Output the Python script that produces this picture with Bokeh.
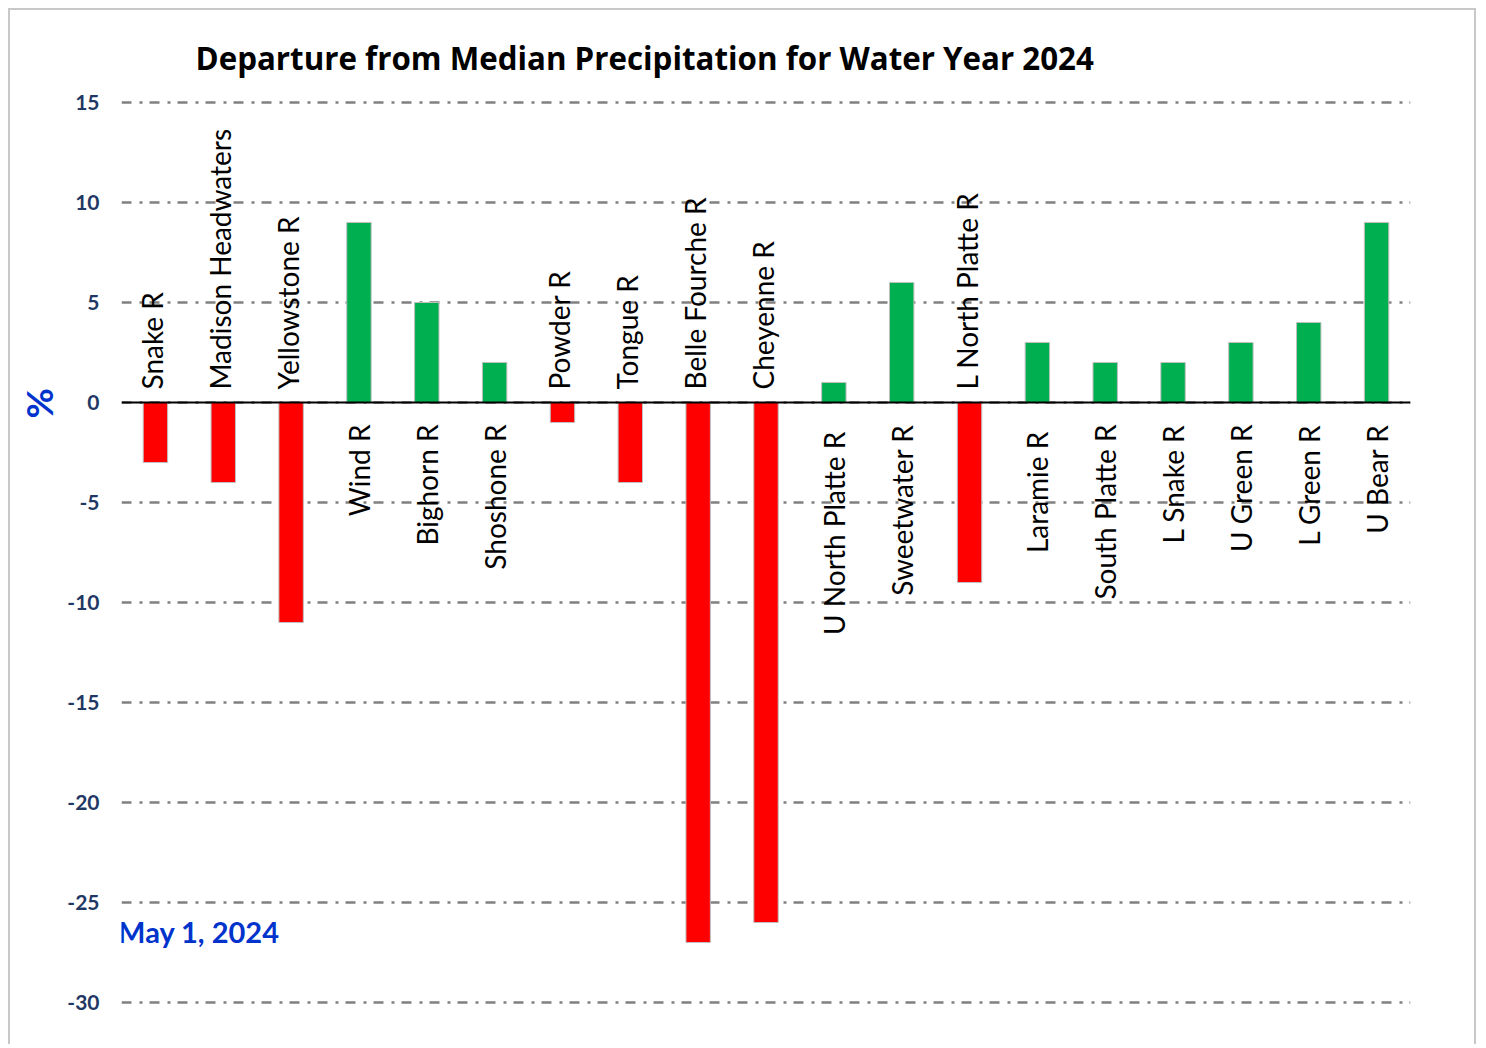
import math
from bokeh.plotting import figure
from bokeh.models import ColumnDataSource, FactorRange, Range1d, FixedTicker, Span, Label, Title
from bokeh.core.properties import value
from bokeh.embed import file_html
from bokeh.resources import INLINE

basins = ["Snake R", "Madison Headwaters", "Yellowstone R", "Wind R", "Bighorn R",
          "Shoshone R", "Powder R", "Tongue R", "Belle Fourche R", "Cheyenne R",
          "U North Platte  R", "Sweetwater R", "L North Platte  R", "Laramie  R",
          "South Platte R", "L Snake R", "U Green R", "L Green R", "U Bear R"]
departure = [-3, -4, -11, 9, 5, 2, -1, -4, -27, -26, 1, 6, -9, 3, 2, 2, 3, 4, 9]
y_ticks = [-30, -25, -20, -15, -10, -5, 0, 5, 10, 15]
y_tick_labels = {t: str(t) for t in y_ticks}
title_text = "Departure from Median Precipitation for Water Year 2024"
date_text = "May 1, 2024"
axis_text = "%"

RED = "#FF0000"
GREEN = "#00B050"
colors = [GREEN if v >= 0 else RED for v in departure]

src = ColumnDataSource(dict(basin=basins, dep=departure, color=colors))
neg = [b for b, v in zip(basins, departure) if v < 0]
pos = [b for b, v in zip(basins, departure) if v >= 0]
neg_src = ColumnDataSource(dict(basin=neg, zero=[0] * len(neg)))
pos_src = ColumnDataSource(dict(basin=pos, zero=[0] * len(pos)))

p = figure(width=1468, height=1036, output_backend="svg", toolbar_location=None,
           x_range=FactorRange(*basins, range_padding=0), y_range=Range1d(-30.25, 15.25),
           min_border_left=111, min_border_right=68, min_border_top=87, min_border_bottom=39)
p.styles = {"margin": "8px 0 0 8px", "border": "2px solid #C8C8C8", "border-bottom": "none"}

p.vbar(x="basin", top="dep", bottom=0, width=0.36, source=src,
       fill_color="color", line_color="#BFBFBF", line_width=1)

p.add_layout(Span(location=0, dimension="width", line_color="black", line_width=2))

lab_font = value("Lato")
p.text(x="basin", y="zero", text="basin", source=neg_src, angle=math.pi / 2,
       text_align="left", text_baseline="middle", y_offset=-13, x_offset=-3,
       text_font=lab_font, text_font_size="28px", text_color="black")
p.text(x="basin", y="zero", text="basin", source=pos_src, angle=math.pi / 2,
       text_align="right", text_baseline="middle", y_offset=22,
       text_font=lab_font, text_font_size="28px", text_color="black")

p.add_layout(Label(x=-0.05, y=-26.45, text=date_text, text_align="left",
                   text_baseline="alphabetic", text_font="Lato", text_font_style="bold",
                   text_font_size="29px", text_color="#0033CC"))

p.title.text = title_text
p.title.align = "left"
p.title.offset = 74
p.title.standoff = 38
p.title.text_font = "Open Sans"
p.title.text_font_style = "bold"
p.title.text_font_size = "31.3px"
p.title.text_color = "black"

p.add_layout(Title(text=axis_text, align="left", offset=589, standoff=7,
                   text_font="Lato", text_font_style="bold", text_font_size="37px",
                   text_color="#0033CC"), "left")

p.xaxis.visible = False
p.xgrid.visible = False
p.yaxis.ticker = FixedTicker(ticks=y_ticks)
p.yaxis.major_label_overrides = y_tick_labels
p.yaxis.axis_line_color = None
p.yaxis.major_tick_line_color = None
p.yaxis.minor_tick_line_color = None
p.yaxis.major_label_standoff = 16
p.yaxis.major_label_text_font = "Lato"
p.yaxis.major_label_text_font_style = "bold"
p.yaxis.major_label_text_font_size = "21px"
p.yaxis.major_label_text_color = "#1F3864"

p.ygrid.ticker = FixedTicker(ticks=y_ticks)
p.ygrid.grid_line_color = "#808080"
p.ygrid.grid_line_width = 2.5
p.ygrid.grid_line_dash = "10 8 3 7"
p.outline_line_color = None
p.background_fill_color = "white"
p.border_fill_color = "white"

open("out.html", "w").write(file_html(p, INLINE))
